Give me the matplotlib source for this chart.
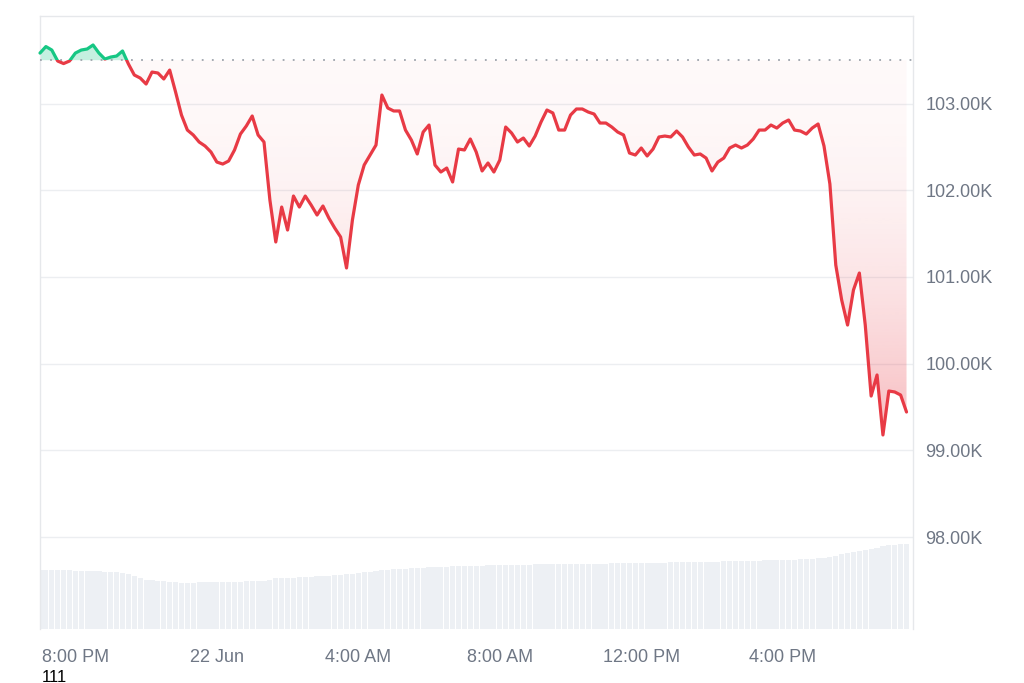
import matplotlib
matplotlib.use('Agg')
import matplotlib.pyplot as plt
import matplotlib.dates as mdates
import numpy as np
import pandas as pd
from matplotlib.path import Path
from matplotlib.patches import PathPatch, Rectangle

plt.rcParams['font.family'] = ['Liberation Sans', 'DejaVu Sans']

# ---------------- data ----------------
START = '2025-06-21 19:00'
STEP = '10min'
STEP_MINUTES = 10

prices = [
    103582, 103657, 103617, 103490, 103461, 103490, 103582, 103617, 103629, 103675,
    103582, 103513, 103536, 103548, 103606, 103456, 103329, 103294, 103225, 103363,
    103352, 103283, 103386, 103133, 102867, 102694, 102637, 102556, 102510, 102441,
    102325, 102302, 102337, 102464, 102648, 102741, 102856, 102637, 102556, 101887,
    101403, 101806, 101541, 101933, 101806, 101933, 101829, 101714, 101818, 101679,
    101564, 101460, 101103, 101656, 102060, 102291, 102406, 102521, 103098, 102948,
    102914, 102914, 102694, 102579, 102418, 102671, 102752, 102291, 102210, 102256,
    102095, 102475, 102464, 102591, 102441, 102222, 102314, 102210, 102348, 102729,
    102660, 102556, 102602, 102510, 102625, 102787, 102925, 102891, 102694, 102694,
    102867, 102937, 102937, 102902, 102879, 102775, 102775, 102729, 102671, 102637,
    102429, 102406, 102487, 102395, 102475, 102614, 102625, 102614, 102683, 102614,
    102498, 102406, 102418, 102371, 102222, 102325, 102371, 102487, 102521, 102487,
    102521, 102591, 102694, 102694, 102752, 102717, 102775, 102810, 102694, 102683,
    102648, 102717, 102764, 102510, 102072, 101137, 100734, 100445, 100849, 101045,
    100445, 99626, 99869, 99177, 99684, 99673, 99638, 99442,
]

# 24h rolling volume (billions USD)
volumes = [
    40.4, 40.2, 40.5, 40.3, 40.1, 40.3, 40.0, 39.9, 39.8, 39.6,
    39.4, 39.2, 39.0, 38.8, 38.5, 37.7, 36.3, 34.9, 33.6, 33.4,
    33.0, 32.6, 32.2, 31.9, 31.7, 31.5, 31.6, 32.0, 32.2, 32.1,
    32.3, 32.2, 32.4, 32.3, 32.5, 32.6, 32.7, 32.8, 33.0, 33.4,
    34.6, 34.8, 35.0, 35.1, 35.3, 35.6, 35.8, 36.0, 36.2, 36.5,
    36.8, 37.1, 37.5, 37.9, 38.3, 38.8, 39.3, 39.7, 40.1, 40.5,
    40.8, 41.1, 41.4, 41.7, 41.9, 42.1, 42.3, 42.5, 42.6, 42.7,
    42.9, 43.0, 43.1, 43.2, 43.3, 43.4, 43.5, 43.6, 43.7, 43.8,
    43.9, 44.0, 44.0, 44.1, 44.2, 44.2, 44.3, 44.3, 44.4, 44.4,
    44.5, 44.5, 44.6, 44.6, 44.7, 44.7, 44.8, 44.9, 45.0, 45.0,
    45.1, 45.2, 45.3, 45.3, 45.4, 45.5, 45.5, 45.6, 45.7, 45.7,
    45.8, 45.9, 45.9, 46.0, 46.1, 46.2, 46.3, 46.4, 46.5, 46.6,
    46.7, 46.8, 46.9, 47.0, 47.1, 47.2, 47.3, 47.3, 47.4, 47.6,
    47.8, 48.0, 48.3, 48.8, 49.5, 50.3, 51.2, 52.0, 52.8, 53.5,
    54.3, 55.1, 55.8, 56.6, 57.3, 57.8, 58.2, 58.5,
]

baseline_price = 103500
y_ticks = [98000, 99000, 100000, 101000, 102000, 103000]
y_tick_labels = ['98.00K', '99.00K', '100.00K', '101.00K', '102.00K', '103.00K']
x_tick_times = ['2025-06-21 20:00', '2025-06-22 00:00', '2025-06-22 04:00',
                '2025-06-22 08:00', '2025-06-22 12:00', '2025-06-22 16:00']
x_tick_labels = ['8:00 PM', '22 Jun', '4:00 AM', '8:00 AM', '12:00 PM', '4:00 PM']
x_end = '2025-06-22 19:41'
footer = '111'

# ---------------- styles ----------------
RED = '#e83a45'
GREEN = '#16c784'
GRID = '#eceef1'
TXT = '#6f7785'
VOL = '#edf0f4'

times = pd.date_range(START, periods=len(prices), freq=STEP)
t = mdates.date2num(times.to_pydatetime())
p = np.array(prices, dtype=float)
xmin = t[0]
xmax = mdates.date2num(pd.Timestamp(x_end).to_pydatetime())
ymin, ymax = 96939, 104013

fig = plt.figure(figsize=(10.24, 6.83), dpi=100)
rect = [40 / 1024, 1 - 629 / 683, (913 - 40) / 1024, (629 - 15.7) / 683]
axv = fig.add_axes(rect)
ax = fig.add_axes(rect, sharex=axv)
ax.patch.set_visible(False)

# volume bars
axv.bar(t, volumes, width=0.88 * STEP_MINUTES / 1440, color=VOL, linewidth=0, align='center')
axv.set_ylim(0, 420)
axv.set_xlim(xmin, xmax)
axv.axis('off')

# price fills
below = p < baseline_price
red_poly = ax.fill_between(t, p, baseline_price, where=below, interpolate=True,
                           facecolor='none', edgecolor='none')
green_poly = ax.fill_between(t, p, baseline_price, where=~below, interpolate=True,
                             facecolor=GREEN, edgecolor='none', alpha=0.25, zorder=2)

f = np.linspace(0, 1, 256)
alpha = 0.03 + 0.34 * f ** 2
rgba = np.zeros((256, 1, 4))
rgba[:, 0, :3] = matplotlib.colors.to_rgb(RED)
rgba[:, 0, 3] = alpha
im = ax.imshow(rgba, extent=[xmin, xmax, 99000, baseline_price], aspect='auto',
               origin='upper', interpolation='bilinear', zorder=2)
paths = red_poly.get_paths()
if paths:
    cp = PathPatch(Path.make_compound_path(*paths), transform=ax.transData,
                   facecolor='none', edgecolor='none')
    im.set_clip_path(cp)

# baseline (dotted)
ax.axhline(baseline_price, color='#9ea4ac', lw=1.3, linestyle=(0, (1, 4.6)), zorder=3)

# price line, split in colour at the baseline
line_r, = ax.plot(t, p, color=RED, lw=2.3, solid_joinstyle='round', solid_capstyle='round', zorder=4)
line_g, = ax.plot(t, p, color=GREEN, lw=2.3, solid_joinstyle='round', solid_capstyle='round', zorder=4)
clip_low = Rectangle((xmin - 1, ymin - 10000), (xmax - xmin) + 2, baseline_price - ymin + 10000,
                     transform=ax.transData)
clip_high = Rectangle((xmin - 1, baseline_price), (xmax - xmin) + 2, 20000,
                      transform=ax.transData)
line_r.set_clip_path(clip_low)
line_g.set_clip_path(clip_high)

ax.set_xlim(xmin, xmax)
ax.set_ylim(ymin, ymax)

# axes styling
ax.set_yticks(y_ticks)
ax.set_yticklabels(y_tick_labels)
ax.yaxis.tick_right()
ax.grid(axis='y', color=GRID, lw=1.0, zorder=0)
ax.set_axisbelow(True)
ax.tick_params(axis='y', length=0, pad=9, labelcolor=TXT, labelsize=13)

xt = mdates.date2num(pd.to_datetime(x_tick_times).to_pydatetime())
ax.set_xticks(xt)
ax.set_xticklabels(x_tick_labels)
ax.tick_params(axis='x', length=0, pad=14.5, labelcolor=TXT, labelsize=13)

for s in ['top', 'left', 'right']:
    ax.spines[s].set_color('#e6e8eb')
    ax.spines[s].set_linewidth(1.0)
ax.spines['bottom'].set_visible(False)

fig.text(42 / 1024, 1 - 677 / 683, footer, fontsize=12, color='black', ha='left', va='center')

fig.savefig('out.png', dpi=100, facecolor='white')
